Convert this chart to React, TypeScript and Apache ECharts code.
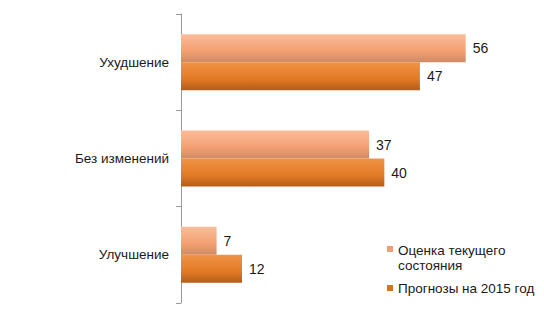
import React, { useEffect, useRef } from "react";
import * as echarts from "echarts";

const categories = ["Ухудшение", "Без изменений", "Улучшение"];
const seriesNames = ["Оценка текущего состояния", "Прогнозы на 2015 год"];
const legendLabels = ["Оценка текущего\nсостояния", "Прогнозы на 2015 год"];
const currentValues = [56, 37, 7];
const forecastValues = [47, 40, 12];

const FONT = "Liberation Sans, Arial, sans-serif";

export default function App() {
  const ref = useRef<HTMLDivElement>(null);
  useEffect(() => {
    if (!ref.current) return;
    const chart = echarts.init(ref.current, null, { renderer: "svg" });
    const lightGrad = new echarts.graphic.LinearGradient(0, 0, 0, 1, [
      { offset: 0, color: "#fbbd9a" },
      { offset: 0.6, color: "#f3a072" },
      { offset: 1, color: "#cf8a66" },
    ]);
    const darkGrad = new echarts.graphic.LinearGradient(0, 0, 0, 1, [
      { offset: 0, color: "#f29346" },
      { offset: 0.6, color: "#e27a24" },
      { offset: 1, color: "#b45c19" },
    ]);
    const labelStyle = {
      show: true,
      position: "right" as const,
      distance: 7,
      fontFamily: FONT,
      fontSize: 14,
      color: "#1a1a1a",
    };
    chart.setOption({
      animation: false,
      backgroundColor: "#ffffff",
      grid: { left: 181, top: 14, width: 305, height: 289, containLabel: false },
      legend: { show: false, data: seriesNames },
      graphic: [
        { type: "rect", left: 387, top: 246, shape: { width: 6, height: 6 }, style: { fill: "#ef9f78" } },
        {
          type: "text",
          left: 398,
          top: 243,
          style: { text: legendLabels[0], font: `13.5px ${FONT}`, fill: "#1a1a1a", lineHeight: 15 },
        },
        { type: "rect", left: 387, top: 285, shape: { width: 6, height: 6 }, style: { fill: "#d9731f" } },
        {
          type: "text",
          left: 398,
          top: 281,
          style: { text: legendLabels[1], font: `13.5px ${FONT}`, fill: "#1a1a1a", lineHeight: 15 },
        },
      ],
      xAxis: {
        type: "value",
        min: 0,
        max: 60,
        show: false,
      },
      yAxis: {
        type: "category",
        inverse: true,
        data: categories,
        axisLine: { show: true, lineStyle: { color: "#9a9a9a", width: 1 } },
        axisTick: { show: true, length: 5, lineStyle: { color: "#9a9a9a" } },
        axisLabel: {
          margin: 12,
          fontFamily: FONT,
          fontSize: 13.5,
          color: "#1a1a1a",
        },
      },
      series: [
        {
          name: seriesNames[0],
          type: "bar",
          data: currentValues,
          barWidth: 28,
          barGap: "0%",
          itemStyle: { color: lightGrad },
          label: labelStyle,
        },
        {
          name: seriesNames[1],
          type: "bar",
          data: forecastValues,
          barWidth: 28,
          barGap: "0%",
          itemStyle: { color: darkGrad },
          label: labelStyle,
        },
      ],
    });
    return () => chart.dispose();
  }, []);
  return <div ref={ref} style={{ width: 544, height: 317, position: "absolute", left: 0, top: 0 }} />;
}
